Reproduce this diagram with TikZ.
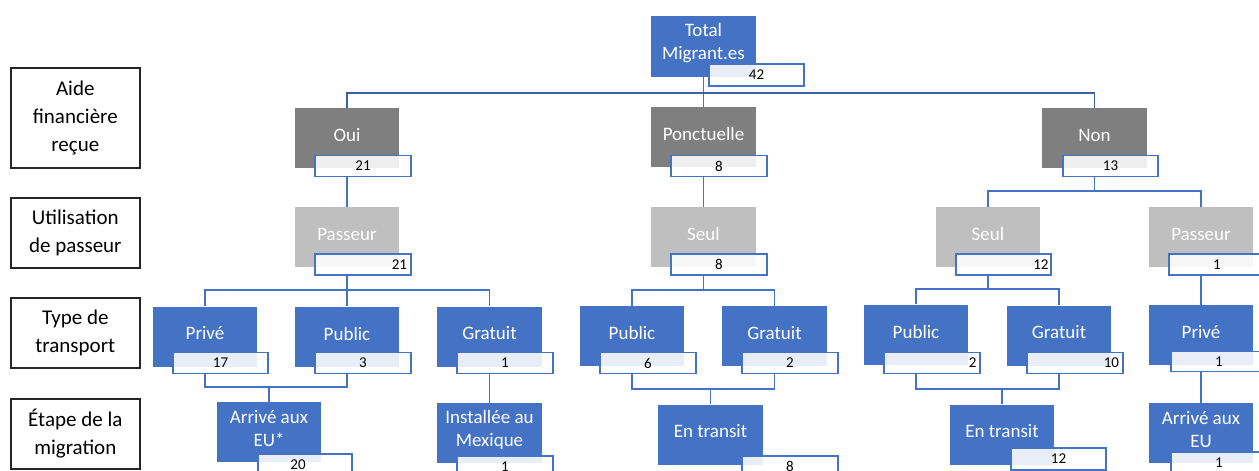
\documentclass[tikz,border=0pt]{standalone}
\usepackage{fontspec}
\setmainfont{Carlito}
\definecolor{obl}{HTML}{4472C4}
\definecolor{dgr}{HTML}{7F7F7F}
\definecolor{lgr}{HTML}{BFBFBF}
\tikzset{
  box/.style={minimum width=104pt, minimum height=60pt, inner sep=0pt, draw=none},
  bluebox/.style={box, fill=obl},
  dgbox/.style={box, fill=dgr},
  lgbox/.style={box, fill=lgr},
  tl/.style={text=white, align=center, font=\fontsize{19}{23}\selectfont, yshift=3pt, inner sep=0pt},
  num/.style={draw=obl, line width=1.3pt, fill=white, fill opacity=0.88, text opacity=1,
    minimum width=96pt, minimum height=21pt, inner sep=0pt, text=black,
    font=\fontsize{15}{18}\selectfont},
  numr/.style={num, text width=88pt, align=right},
  lab/.style={draw=black!85, line width=1.4pt, fill=white, minimum width=129pt,
    align=center, inner sep=0pt, font=\fontsize{21}{28}\selectfont},
  conn/.style={draw=obl, line width=1.3pt},
  topconn/.style={draw=obl!85!black, line width=1.3pt}
}
\newcommand\orgbox[5]{\node[#1,label={[tl]center:{#5}}] (#2) at (#3,#4) {};}
\begin{document}
\begin{tikzpicture}[x=1pt,y=-1pt]
\useasboundingbox (0,0) rectangle (1259,471);

% left level labels
\node[lab,minimum height=100pt] (l1) at (75.3,118) {Aide\\financière\\reçue};
\node[lab,minimum height=70pt] (l2) at (75.3,233) {Utilisation\\de passeur};
\node[lab,minimum height=70pt] (l3) at (75.3,333) {Type de\\transport};
\node[lab,minimum height=70pt] (l4) at (75.3,434) {Étape de la\\migration};

% main boxes
\orgbox{bluebox,minimum width=105pt,minimum height=61pt}{tot}{703.5}{46.5}{Total\\Migrant.es}
\orgbox{dgbox}{oui}{347}{138}{Oui}
\orgbox{dgbox,minimum width=105pt}{pon}{703.5}{137}{Ponctuelle}
\orgbox{dgbox,minimum width=105pt}{non}{1094.5}{138}{Non}
\orgbox{lgbox}{pas1}{347}{237}{Passeur}
\orgbox{lgbox,minimum width=105pt}{seul1}{703.5}{237}{Seul}
\orgbox{lgbox}{seul2}{988}{237}{Seul}
\orgbox{lgbox}{pas2}{1201}{237}{Passeur}
\orgbox{bluebox}{prive1}{205}{336.5}{Privé}
\orgbox{bluebox}{pub1}{347}{336.5}{Public}
\orgbox{bluebox,minimum width=105pt}{grat1}{489.5}{336.5}{Gratuit}
\orgbox{bluebox}{pub2}{632}{336}{Public}
\orgbox{bluebox,minimum width=105pt}{grat2}{774.5}{336}{Gratuit}
\orgbox{bluebox}{pub3}{916}{334.5}{Public}
\orgbox{bluebox}{grat3}{1059}{335.5}{Gratuit}
\orgbox{bluebox}{prive2}{1201}{335}{Privé}
\orgbox{bluebox}{arr1}{269}{432}{Arrivé aux\\EU*}
\orgbox{bluebox,minimum width=105pt}{inst}{489.5}{433}{Installée au\\Mexique}
\orgbox{bluebox,minimum width=105pt}{tr1}{710.5}{434.5}{En transit}
\orgbox{bluebox}{tr2}{1002}{434.5}{En transit}
\orgbox{bluebox}{arr2}{1201}{433}{Arrivé aux\\EU}

% number boxes
\node[num,minimum width=95pt,minimum height=22pt] (tot-n) at (756.5,75) {42};
\node[num] (oui-n) at (363,166) {21};
\node[num] (pon-n) at (719,166) {8};
\node[num,minimum width=95pt] (non-n) at (1110.5,166) {13};
\node[numr] (pas1-n) at (363,264.5) {21};
\node[num] (seul1-n) at (719,264.5) {8};
\node[numr,minimum width=95pt,text width=90pt] (seul2-n) at (1003.5,264.5) {12};
\node[num] (pas2-n) at (1217,264.5) {1};
\node[num,minimum width=95pt] (prive1-n) at (220.5,363) {17};
\node[num] (pub1-n) at (363,363) {3};
\node[num] (grat1-n) at (505,363) {1};
\node[num] (pub2-n) at (648,363) {6};
\node[num] (grat2-n) at (790,363) {2};
\node[numr,text width=89pt] (pub3-n) at (932,363) {2};
\node[numr,text width=88pt] (grat3-n) at (1075,363) {10};
\node[num,minimum height=20pt] (prive2-n) at (1219,361.5) {1};
\node[num,minimum width=94pt] (arr1-n) at (305,464.5) {\hspace*{-14pt}20};
\node[num] (inst-n) at (505,466.5) {1};
\node[num] (tr1-n) at (790,466.5) {8};
\node[num,minimum width=95pt,minimum height=22pt] (tr2-n) at (1058.5,459) {12};
\node[num] (arr2-n) at (1219,462.5) {1};

% connectors
\coordinate (b0) at (703.5,93);
\coordinate (b4) at (1094.5,191);
\coordinate (b1) at (347,290);
\coordinate (b2) at (703.5,290);
\coordinate (b3) at (988,289);
\coordinate (b5) at (269,387);
\coordinate (b6) at (710.5,389);
\coordinate (b7) at (1002,389);

\draw[conn] (tot.south) -- (pon.north);
\draw[topconn] (oui.north) |- (b0) -| (non.north);
\draw[conn] (oui.center |- oui-n.south) -- (pas1.north);
\draw[conn] (pon.center |- pon-n.south) -- (seul1.north);
\draw[conn] (non.center |- non-n.south) -- (b4);
\draw[conn] (seul2.north) |- (b4) -| (pas2.north);

\draw[conn] (pas1.center |- pas1-n.south) -- (pub1.north);
\draw[conn] (prive1.north) |- (b1) -| (grat1.north);
\draw[conn] (seul1.center |- seul1-n.south) -- (b2);
\draw[conn] (pub2.north) |- (b2) -| (grat2.north);
\draw[conn] (seul2.center |- seul2-n.south) -- (b3);
\draw[conn] (pub3.north) |- (b3) -| (grat3.north);
\draw[conn] (pas2.center |- pas2-n.south) -- (prive2.north);

\draw[conn] (prive1.center |- prive1-n.south) |- (b5) -| (pub1.center |- pub1-n.south);
\draw[conn] (b5) -- (arr1.north);
\draw[conn] (grat1.center |- grat1-n.south) -- (inst.north);
\draw[conn] (pub2.center |- pub2-n.south) |- (b6) -| (grat2.center |- grat2-n.south);
\draw[conn] (b6) -- (tr1.north);
\draw[conn] (pub3.center |- pub3-n.south) |- (b7) -| (grat3.center |- grat3-n.south);
\draw[conn] (b7) -- (tr2.north);
\draw[conn] (prive2.center |- prive2-n.south) -- (arr2.north);
\end{tikzpicture}
\end{document}
